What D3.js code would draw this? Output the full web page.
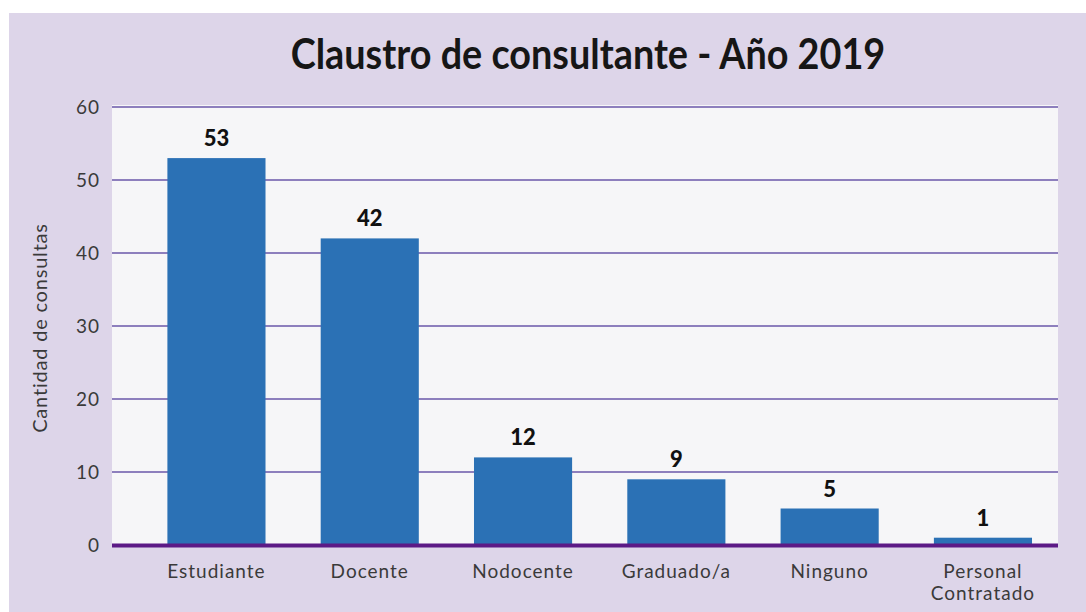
<!DOCTYPE html>
<html>
<head>
<meta charset="utf-8">
<script src="https://cdn.jsdelivr.net/npm/d3@7"></script>
<style>
  html, body { margin: 0; padding: 0; background: #ffffff; }
  svg { display: block; }
</style>
</head>
<body>
<div id="chart"></div>
<script>
const categories = ["Estudiante", "Docente", "Nodocente", "Graduado/a", "Ninguno", "Personal Contratado"];
const values = [53, 42, 12, 9, 5, 1];
const yTicks = [0, 10, 20, 30, 40, 50, 60];
const title = "Claustro de consultante - Año 2019";
const yLabel = "Cantidad de consultas";

const W = 1086, H = 612;
const svg = d3.select("#chart").append("svg").attr("width", W).attr("height", H);

// outer panel
svg.append("rect").attr("x", 9).attr("y", 13).attr("width", W - 9).attr("height", H - 13)
  .attr("fill", "#ddd5e9");

const plot = { left: 112, right: 1058, top: 105, bottom: 545 };

const x = d3.scaleBand().domain(categories).range([139.8, 1059.6]).paddingInner(0.36).paddingOuter(0.18);
const y = d3.scaleLinear().domain([0, 60]).range([plot.bottom, 107]);

// plot background
svg.append("rect").attr("x", plot.left).attr("y", plot.top)
  .attr("width", plot.right - plot.left).attr("height", plot.bottom - plot.top)
  .attr("fill", "#f6f6f8");

// gridlines
svg.append("g").selectAll("line").data(yTicks.filter(d => d > 0)).join("line")
  .attr("x1", plot.left).attr("x2", plot.right)
  .attr("y1", d => y(d)).attr("y2", d => y(d))
  .attr("stroke", "#8d7fbd").attr("stroke-width", 2);

// y axis labels
const yAxis = d3.axisLeft(y).tickValues(yTicks).tickSize(0).tickPadding(12);
const gy = svg.append("g").attr("transform", `translate(${plot.left},0)`).call(yAxis);
gy.select(".domain").remove();
gy.selectAll("text")
  .attr("font-family", "Lato, 'Open Sans', sans-serif")
  .attr("font-weight", 400)
  .attr("font-size", 19)
  .attr("fill", "#3a3a3a")
  .style("letter-spacing", "1px");

// bars
svg.append("g").selectAll("rect").data(values).join("rect")
  .attr("x", (d, i) => x(categories[i]))
  .attr("width", x.bandwidth())
  .attr("y", d => y(d))
  .attr("height", d => y(0) - y(d))
  .attr("fill", "#2b71b5");

// baseline
svg.append("line").attr("x1", plot.left).attr("x2", plot.right)
  .attr("y1", y(0) + 0.5).attr("y2", y(0) + 0.5)
  .attr("stroke", "#5c1a86").attr("stroke-width", 4);

// value labels
svg.append("g").selectAll("text").data(values).join("text")
  .attr("x", (d, i) => x(categories[i]) + x.bandwidth() / 2)
  .attr("y", d => y(d) - 12)
  .attr("text-anchor", "middle")
  .attr("font-family", "Lato, 'Open Sans', sans-serif")
  .attr("font-weight", 900)
  .attr("font-size", 22)
  .attr("fill", "#111")
  .text(d => d);

// x labels
const xl = svg.append("g").selectAll("text").data(categories).join("text")
  .attr("x", d => x(d) + x.bandwidth() / 2)
  .attr("y", 578)
  .attr("text-anchor", "middle")
  .attr("font-family", "Lato, 'Open Sans', sans-serif")
  .attr("font-weight", 400)
  .attr("font-size", 19)
  .attr("fill", "#3a3a3a")
  .style("letter-spacing", "1px");
xl.each(function(d) {
  const words = d === "Personal Contratado" ? ["Personal", "Contratado"] : [d];
  const t = d3.select(this);
  words.forEach((w, i) => {
    t.append("tspan").attr("x", x(d) + x.bandwidth() / 2).attr("dy", i === 0 ? 0 : 22).text(w);
  });
});

// y label
svg.append("text")
  .attr("transform", `translate(47,328) rotate(-90)`)
  .attr("text-anchor", "middle")
  .attr("font-family", "Lato, 'Open Sans', sans-serif")
  .attr("font-weight", 400)
  .attr("font-size", 20)
  .attr("fill", "#3a3a3a")
  .style("letter-spacing", "0.8px")
  .text(yLabel);

// title
svg.append("text")
  .attr("transform", "translate(588,69) scale(0.9,1)")
  .attr("text-anchor", "middle")
  .attr("font-family", "Lato, 'Open Sans', sans-serif")
  .attr("font-weight", 700)
  .attr("font-size", 42)
  .attr("fill", "#161616")
  .text(title);
</script>
</body>
</html>
